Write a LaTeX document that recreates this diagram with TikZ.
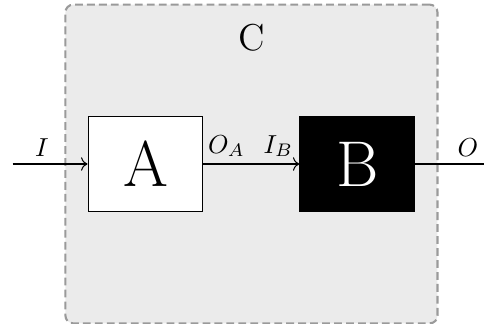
\documentclass[tikz,border=0pt]{standalone}
\usepackage{tikz}
\usetikzlibrary{arrows.meta, positioning, fit, backgrounds}
\definecolor{frame-gray}{HTML}{9a9a9a}
\definecolor{frame-bg}{HTML}{ebebeb}

\begin{document}
\begin{tikzpicture}[
    node distance=36.9pt,
    box/.style={draw, minimum width=44.2pt, minimum height=36.2pt, inner sep=0pt, font=\Huge},
    frame/.style={draw=frame-gray, fill=frame-bg, thick, dash pattern=on 3pt off 1.6pt, rounded corners=3pt, inner xsep=8.5pt, inner ysep=43pt},
    arrow/.style={->},
    lbl/.style={above, inner sep=2.5pt}
]
    \useasboundingbox (-55.96pt,-61.54pt) rectangle (130.2pt,63.08pt);
    \node[box, fill=white] (a) {A};
    \node[box, fill=black, text=white, right=of a] (b) {B};
    \coordinate[left=28.8pt of a.west] (in);
    \coordinate[right=26.9pt of b.east] (out);

    \begin{scope}[on background layer]
        \node[frame, fit=(a)(b)] (c) {};
    \end{scope}
    \node[font=\Large, inner sep=0pt, yshift=-13pt] at (c.north) (ctitle) {C};

    \draw[arrow] (in) -- node[lbl, pos=0.39] (ilbl) {$I$} (a.west);
    \draw[arrow] (a.east) -- node[lbl, pos=0.24] (oalbl) {$O_A$}
        node[lbl, pos=0.78] (iblbl) {$I_B$} (b.west);
    \draw (b.east) -- node[lbl, pos=0.75] (olbl) {$O$} (out);
\end{tikzpicture}
\end{document}
